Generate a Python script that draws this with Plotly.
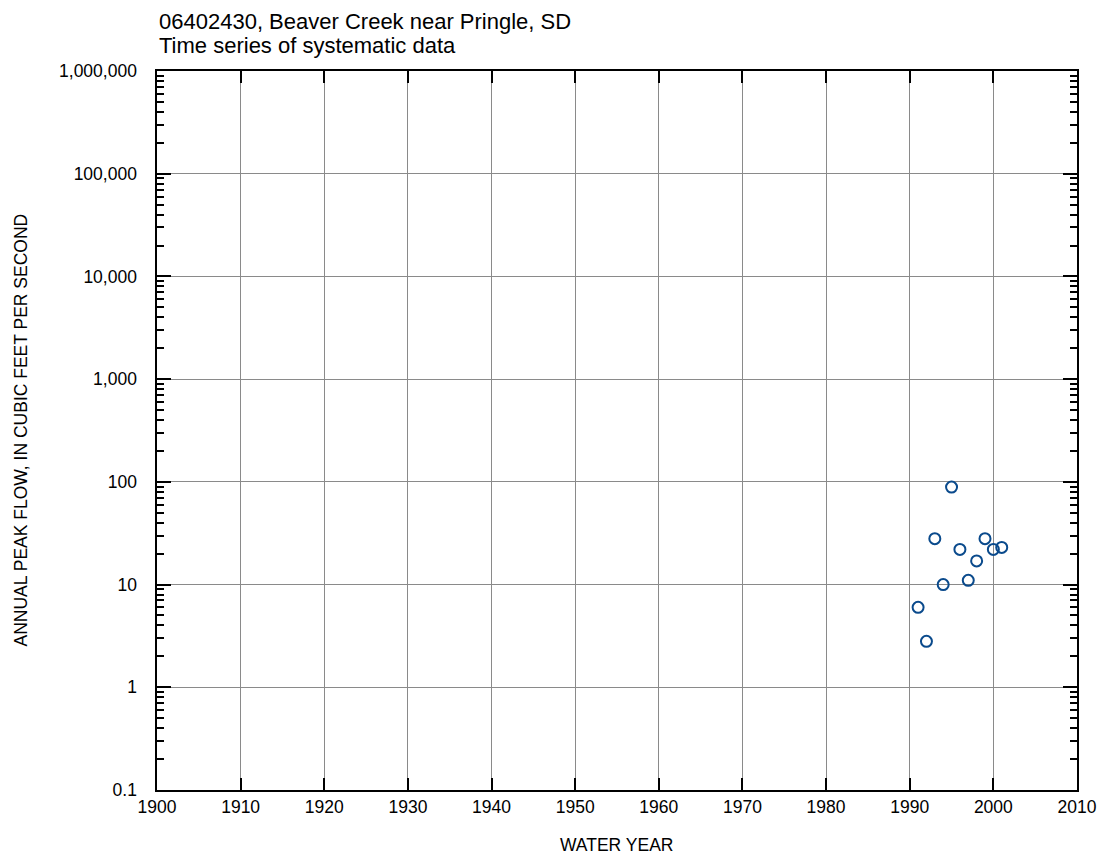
import plotly.graph_objects as go

years = [1991, 1992, 1993, 1994, 1995, 1996, 1997, 1998, 1999, 2000, 2001]
peaks = [6, 2.8, 28, 10, 89, 22, 11, 17, 28, 22, 23]

y_tickvals = [0.1, 1, 10, 100, 1000, 10000, 100000, 1000000]
y_ticktext = ["0.1", "1", "10", "100", "1,000", "10,000", "100,000", "1,000,000"]
x_tickvals = list(range(1900, 2011, 10))

minor_vals = [m * 10 ** e for e in range(-1, 6) for m in range(2, 10)]

FONT = "Liberation Sans Narrow, Arial Narrow, Liberation Sans, Arial, sans-serif"

W, H = 1101, 856
L, R, T, B = 157, 24, 71, 66
PW, PH = W - L - R, H - T - B

fig = go.Figure()
fig.add_trace(go.Scatter(
    x=years, y=peaks, mode="markers",
    marker=dict(symbol="circle-open", size=11, color="#0a4a8c", line=dict(width=2, color="#0a4a8c")),
    showlegend=False, hoverinfo="skip",
))

fig.update_layout(
    width=W, height=H,
    margin=dict(l=L, r=R, t=T, b=B, autoexpand=False),
    paper_bgcolor="white", plot_bgcolor="white",
    font=dict(family=FONT, size=17, color="black"),
    xaxis=dict(
        range=[1900, 2010], tickvals=x_tickvals, ticks="inside", ticklen=12, tickwidth=2,
        tickcolor="black", mirror="allticks", showline=True, linewidth=2, linecolor="black",
        showgrid=True, gridcolor="#8a8a8a", gridwidth=1, zeroline=False,
        tickfont=dict(size=17.5),
    ),
    yaxis=dict(
        type="log", range=[-1, 6], tickvals=y_tickvals,
        ticktext=[t + "\u00a0\u00a0\u00a0" for t in y_ticktext],
        ticks="inside", ticklen=14, tickwidth=2, tickcolor="black", mirror="allticks",
        showline=True, linewidth=2, linecolor="black",
        showgrid=True, gridcolor="#8a8a8a", gridwidth=1, zeroline=False,
        tickfont=dict(size=17.5),
        minor=dict(tickvals=minor_vals, ticks="inside", ticklen=7, tickwidth=1.5,
                   tickcolor="black", showgrid=False),
    ),
    annotations=[
        dict(text="06402430, Beaver Creek near Pringle, SD", xref="paper", yref="paper",
             x=0, y=(PH + T - 21) / PH, xanchor="left", yanchor="middle", showarrow=False,
             font=dict(family=FONT, size=22, color="black")),
        dict(text="Time series of systematic data", xref="paper", yref="paper",
             x=0, y=(PH + T - 45) / PH, xanchor="left", yanchor="middle", showarrow=False,
             font=dict(family=FONT, size=22, color="black")),
        dict(text="ANNUAL PEAK FLOW, IN CUBIC FEET PER SECOND", xref="paper", yref="paper",
             x=(20 - L) / PW, y=0.5, xanchor="center", yanchor="middle", textangle=-90,
             showarrow=False, font=dict(family=FONT, size=17.5, color="black")),
        dict(text="WATER YEAR", xref="paper", yref="paper",
             x=(616 - L) / PW, y=-(845 - T - PH) / PH, xanchor="center", yanchor="middle",
             showarrow=False, font=dict(family=FONT, size=17.5, color="black")),
    ],
)

fig.write_html("out.html", config={"displayModeBar": False},
               post_script="document.body.style.margin='0';")
